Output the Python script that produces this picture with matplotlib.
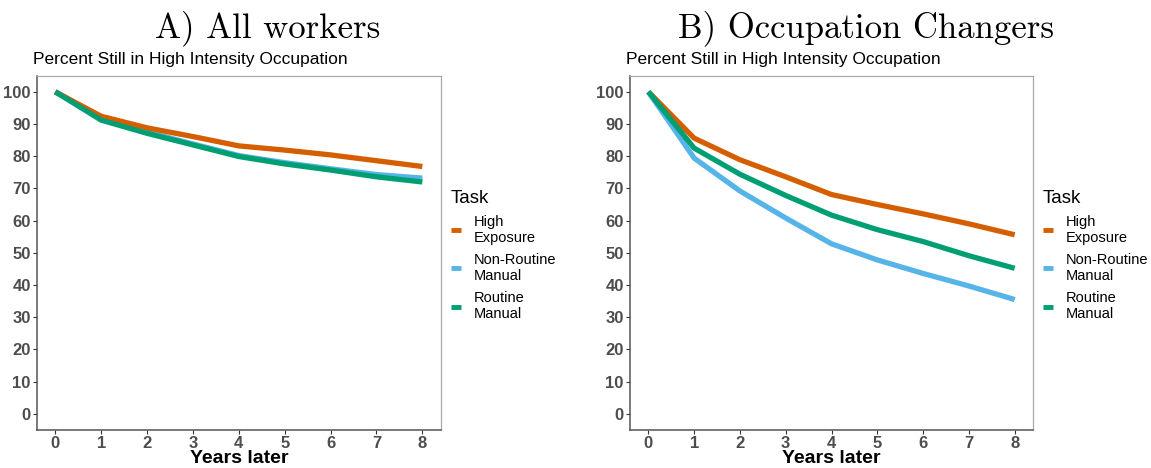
import numpy as np
import matplotlib.pyplot as plt

# years after the start
years = [0, 1, 2, 3, 4, 5, 6, 7, 8]
tasks = ["High\nExposure", "Non-Routine\nManual", "Routine\nManual"]
colors = ["#D55E00", "#56B4E9", "#009E73"]

# panel A: all workers
all_high = [100, 92.4, 88.8, 86.1, 83.2, 81.9, 80.4, 78.6, 76.8]
all_nrm = [100, 91.6, 87.5, 83.8, 80.2, 78.0, 76.1, 74.3, 73.2]
all_rm = [100, 91.2, 87.1, 83.5, 79.9, 77.6, 75.7, 73.6, 72.0]

# panel B: occupation changers
chg_high = [100, 85.6, 78.9, 73.6, 68.1, 65.0, 62.1, 59.0, 55.6]
chg_nrm = [100, 79.4, 69.2, 60.8, 52.8, 47.8, 43.6, 39.7, 35.5]
chg_rm = [100, 82.5, 74.4, 67.8, 61.7, 57.2, 53.5, 49.1, 45.2]

plt.rcParams['font.family'] = ['Liberation Sans', 'DejaVu Sans']

fig = plt.figure(figsize=(11.51, 4.68), dpi=100)
ax1 = fig.add_axes([0.0321, 0.0812, 0.3508, 0.7571])
ax2 = fig.add_axes([0.5474, 0.0812, 0.3501, 0.7571])

panels = [
    (ax1, [all_high, all_nrm, all_rm], "A) All workers", 0.572),
    (ax2, [chg_high, chg_nrm, chg_rm], "B) Occupation Changers", 0.585),
]

for ax, series, title, tx in panels:
    # non-routine goes under the others on the left panel
    order = [1, 0, 2] if ax is ax1 else [0, 1, 2]
    lines = {}
    for i in order:
        ln, = ax.plot(years, series[i], color=colors[i], lw=3.8,
                      solid_capstyle='butt', label=tasks[i])
        lines[i] = ln
    ax.set_xlim(-0.4, 8.4)
    ax.set_ylim(-5, 105)
    ax.set_xticks(years)
    ax.set_yticks(np.arange(0, 101, 10))
    ax.tick_params(axis='both', labelsize=12, colors='#333333',
                   labelcolor='#4D4D4D', length=3, width=0.8, pad=1.5)
    for lab in ax.get_xticklabels() + ax.get_yticklabels():
        lab.set_fontweight('bold')
    for side in ['left', 'bottom']:
        ax.spines[side].set_color('#555555')
        ax.spines[side].set_linewidth(1.1)
    for side in ['top', 'right']:
        ax.spines[side].set_color('#AAAAAA')
        ax.spines[side].set_linewidth(0.9)
    ax.set_xlabel("Years later", fontsize=14, fontweight='bold',
                  color='black', labelpad=-1)
    ax.text(-0.01, 1.025, "Percent Still in High Intensity Occupation",
            transform=ax.transAxes, fontsize=12.5, ha='left', va='bottom')
    # panel heading sits over the plot plus legend
    ax.text(tx, 1.135, title, transform=ax.transAxes, fontsize=25,
            family='cmr10', ha='center', va='center')
    leg = ax.legend([lines[i] for i in [0, 1, 2]], tasks, title="Task",
                    loc='upper left', bbox_to_anchor=(1.01, 0.695),
                    frameon=False, fontsize=10.5, title_fontsize=13.5,
                    handlelength=0.7, handletextpad=0.9, labelspacing=0.55,
                    borderaxespad=0)
    leg._legend_box.align = 'left'
    for h in leg.legend_handles:
        h.set_linewidth(3.5)

fig.savefig("out.png", dpi=100)
